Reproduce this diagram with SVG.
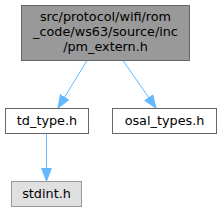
<svg xmlns="http://www.w3.org/2000/svg" width="221" height="212" viewBox="0 0 221 212">
<style>
.n rect{stroke-width:1}
text{font-family:"DejaVu Sans",sans-serif;font-size:12.8px;fill:#000;text-anchor:middle}
.e{stroke:#63b8ff;stroke-width:1;fill:none}
</style>
<defs>
<marker id="a" markerWidth="14" markerHeight="12" refX="13" refY="6" orient="auto" markerUnits="userSpaceOnUse">
<path d="M0.5,1.2 L13,6 L0.5,10.8 Z" fill="#63b8ff" stroke="#63b8ff"/>
</marker>
</defs>
<g id="connectors">
<path class="e" d="M87,60.5 L58,108" marker-end="url(#a)"/>
<path class="e" d="M123,60.5 L156,108" marker-end="url(#a)"/>
<path class="e" d="M46.5,133.5 L46.5,181" marker-end="url(#a)"/>
</g>
<g id="node1" class="n">
<rect x="21.5" y="5.5" width="168" height="55" fill="#999999" stroke="#666666"/>
<text x="105.5" y="21">src/protocol/wifi/rom</text>
<text x="105.5" y="36">_code/ws63/source/inc</text>
<text x="105.5" y="51">/pm_extern.h</text>
</g>
<g id="node2" class="n">
<rect x="5.5" y="108.5" width="83" height="25" fill="#ffffff" stroke="#666666"/>
<text x="47" y="125">td_type.h</text>
</g>
<g id="node3" class="n">
<rect x="112.5" y="108.5" width="104" height="25" fill="#ffffff" stroke="#666666"/>
<text x="164.5" y="125">osal_types.h</text>
</g>
<g id="node4" class="n">
<rect x="11.5" y="181.5" width="70" height="25" fill="#e0e0e0" stroke="#999999"/>
<text x="46.5" y="198">stdint.h</text>
</g>
</svg>
